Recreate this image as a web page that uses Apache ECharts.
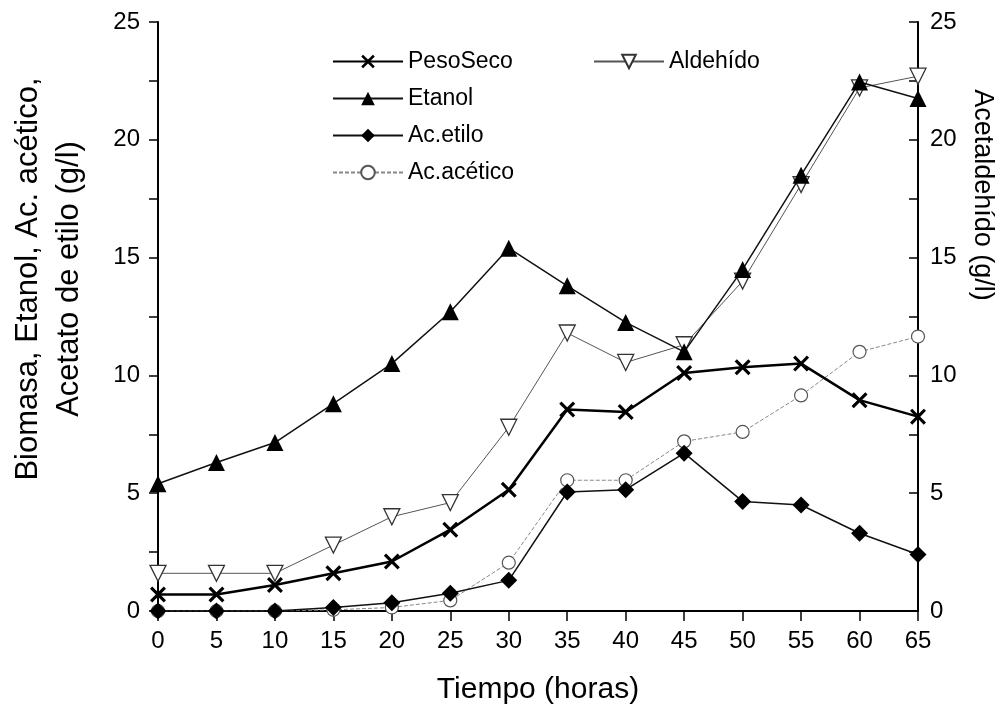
<!DOCTYPE html>
<html>
<head>
<meta charset="utf-8">
<script src="https://cdn.jsdelivr.net/npm/echarts@6/dist/echarts.min.js"></script>
<style>
html, body { margin: 0; padding: 0; background: #fff; }
#chart_box { width: 1000px; height: 706px; }
</style>
</head>
<body>
<div id="chart_box"></div>
<script>
/*datos*/
var horas = [0, 5, 10, 15, 20, 25, 30, 35, 40, 45, 50, 55, 60, 65];
var pesoSeco = [0.7, 0.7, 1.1, 1.6, 2.1, 3.45, 5.15, 8.55, 8.45, 10.1, 10.35, 10.5, 8.95, 8.25];
var etanol = [5.4, 6.3, 7.15, 8.8, 10.5, 12.7, 15.4, 13.8, 12.25, 11.0, 14.5, 18.5, 22.45, 21.75];
var acEtilo = [0, 0, 0, 0.15, 0.35, 0.75, 1.3, 5.05, 5.15, 6.7, 4.65, 4.5, 3.3, 2.4];
var acAcetico = [0, 0, 0, 0.05, 0.15, 0.45, 2.05, 5.55, 5.55, 7.2, 7.6, 9.15, 11.0, 11.65];
var aldehido = [1.6, 1.6, 1.6, 2.8, 4.0, 4.6, 7.8, 11.8, 10.55, 11.3, 14.0, 18.1, 22.2, 22.7];

var fuente = "'Liberation Sans', Arial, sans-serif";

function pares(valores) {
	var out = [];
	for (var i = 0; i < horas.length; i++) {
		out.push([horas[i], valores[i]]);
	}
	return out;
}

var simboloX = 'path://M0,1.4L1.4,0L5,3.6L8.6,0L10,1.4L6.4,5L10,8.6L8.6,10L5,6.4L1.4,10L0,8.6L3.6,5Z';
var simboloAbajo = 'path://M0,0L10,0L5,9Z';

var myChart = echarts.init(document.getElementById('chart_box'));

var ejeY = function(lado) {
	return {
		type: 'value',
		position: lado,
		min: 0,
		max: 25,
		interval: 5,
		axisLine: { show: true, lineStyle: { color: '#000', width: 2 } },
		axisTick: { show: true, inside: lado === 'right', length: 9, lineStyle: { color: '#000', width: 1.5 } },
		minorTick: { show: true, splitNumber: 2, length: 9, lineStyle: { color: '#000', width: 1.5 } },
		axisLabel: { color: '#000', fontSize: 24, fontFamily: fuente, margin: lado === 'right' ? 12 : 18 },
		splitLine: { show: false }
	};
};

var option = {
	animation: false,
	backgroundColor: '#fff',
	grid: { left: 158, right: 82, top: 22, bottom: 95, containLabel: false, outerBoundsMode: 'none' },
	legend: [{
		data: ['PesoSeco', 'Etanol', 'Ac.etilo', 'Ac.acético'],
		orient: 'vertical',
		left: 332,
		top: 50,
		padding: 0,
		itemWidth: 70,
		itemHeight: 17,
		itemGap: 14,
		textStyle: { color: '#000', fontSize: 23, lineHeight: 23, fontFamily: fuente }
	}, {
		data: ['Aldehído'],
		orient: 'vertical',
		left: 593,
		top: 50,
		padding: 0,
		itemWidth: 70,
		itemHeight: 17,
		textStyle: { color: '#000', fontSize: 23, lineHeight: 23, fontFamily: fuente }
	}],
	xAxis: {
		type: 'value',
		min: 0,
		max: 65,
		interval: 5,
		name: 'Tiempo (horas)',
		nameLocation: 'middle',
		nameGap: 64,
		nameTextStyle: { color: '#000', fontSize: 30, fontFamily: fuente, verticalAlign: 'top' },
		axisLine: { show: true, onZero: false, lineStyle: { color: '#000', width: 2 } },
		axisTick: { show: true, length: 10, lineStyle: { color: '#000', width: 1.5 } },
		axisLabel: { color: '#000', fontSize: 24, fontFamily: fuente, margin: 18 },
		splitLine: { show: false }
	},
	yAxis: [ejeY('left'), ejeY('right')],
	graphic: [{
		type: 'text',
		x: 49,
		y: 279,
		rotation: Math.PI / 2,
		style: {
			text: 'Biomasa, Etanol, Ac. acético,\nAcetato de etilo (g/l)',
			fill: '#000',
			font: '31px ' + fuente,
			lineHeight: 41,
			align: 'center',
			verticalAlign: 'middle'
		}
	}, {
		type: 'text',
		x: 982,
		y: 195,
		rotation: -Math.PI / 2,
		style: {
			text: 'Acetaldehído (g/l)',
			fill: '#000',
			font: '27px ' + fuente,
			align: 'center',
			verticalAlign: 'middle'
		}
	}],
	series: [{
		name: 'PesoSeco',
		type: 'line',
		data: pares(pesoSeco),
		symbol: simboloX,
		symbolSize: 16,
		itemStyle: { color: '#000' },
		lineStyle: { color: '#000', width: 2.5 },
		z: 5
	}, {
		name: 'Etanol',
		type: 'line',
		data: pares(etanol),
		symbol: 'triangle',
		symbolSize: 17,
		itemStyle: { color: '#000' },
		lineStyle: { color: '#111', width: 1.5 },
		z: 4
	}, {
		name: 'Ac.etilo',
		type: 'line',
		data: pares(acEtilo),
		symbol: 'diamond',
		symbolSize: 17,
		itemStyle: { color: '#000' },
		lineStyle: { color: '#111', width: 1.5 },
		z: 4
	}, {
		name: 'Ac.acético',
		type: 'line',
		data: pares(acAcetico),
		symbol: 'circle',
		symbolSize: 13,
		itemStyle: { color: '#fff', borderColor: '#555', borderWidth: 1.2 },
		lineStyle: { color: '#888', width: 1, type: [4, 2] },
		z: 3
	}, {
		name: 'Aldehído',
		type: 'line',
		yAxisIndex: 1,
		data: pares(aldehido),
		symbol: simboloAbajo,
		symbolSize: 16,
		itemStyle: { color: '#fff', borderColor: '#333', borderWidth: 1.3 },
		lineStyle: { color: '#555', width: 1 },
		z: 3
	}]
};

myChart.setOption(option);
</script>
</body>
</html>
